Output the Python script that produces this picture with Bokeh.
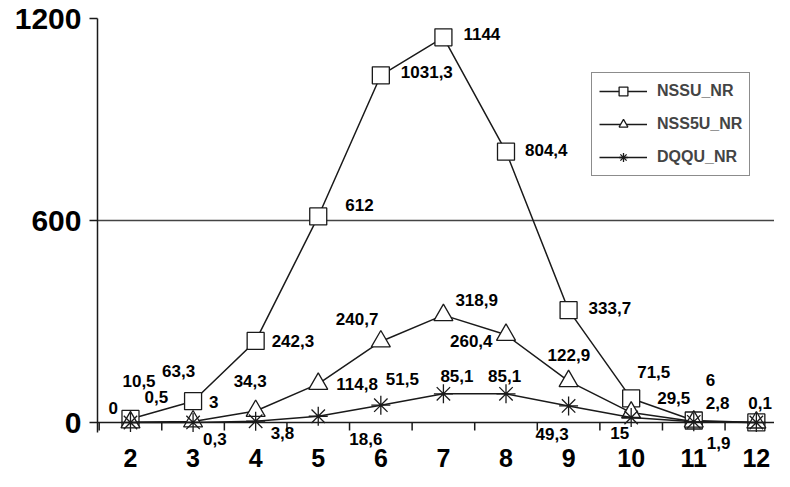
from bokeh.plotting import figure
from bokeh.models import Range1d, FixedTicker, Legend, LegendItem, ColumnDataSource, Span
from bokeh.embed import file_html
from bokeh.resources import INLINE
from bokeh.core.properties import value

# ---- data ----
categories = [2, 3, 4, 5, 6, 7, 8, 9, 10, 11, 12]
nssu_nr = [10.5, 63.3, 242.3, 612, 1031.3, 1144, 804.4, 333.7, 71.5, 6, 0.1]
nss5u_nr = [0.5, 3, 34.3, 114.8, 240.7, 318.9, 260.4, 122.9, 29.5, 2.8, 0]
dqqu_nr = [0, 0.3, 3.8, 18.6, 51.5, 85.1, 85.1, 49.3, 15, 1.9, 0]
y_ticks = [0, 600, 1200]
series_names = ["NSSU_NR", "NSS5U_NR", "DQQU_NR"]

# label placement (screen px: left edge, vertical middle; +dy = down), None = no label
nssu_off = [(-8, -38), (-31, -30), (16, 0), (27, -11), (20, -3), (20, -3), (19, -2), (20, -2), (6, -26), (12, -40), (-8, -19)]
nss5u_off = [(14, -25), (16, -19), (-22, -30), (18, 0), (-45, -22), (12, -15), (-56, 6), (-21, -26), (26, -15), (12, -19), None]
dqqu_off = [(-22, -15), (10, 17), (15, 12), (31, 23), (5, -26), (-3, -18), (-18, -18), (-33, 28), (-21, 16), (13, 21), None]

FONT = "Liberation Sans"
INK = "#1a1a1a"

H, TOP, ZERO_Y = 471, 18, 422          # figure height, frame top, pixel row of value 0
y_max = 1200
px_per_unit = (ZERO_Y - TOP) / y_max
y_min = -(H - ZERO_Y) / px_per_unit

p = figure(width=774, height=H, output_backend="svg", toolbar_location=None,
           x_range=Range1d(1.473, 12.29), y_range=Range1d(y_min, y_max),
           x_axis_location=None,
           min_border_left=97, min_border_right=0, min_border_top=TOP, min_border_bottom=0)
p.outline_line_color = None
p.background_fill_color = "white"

# y axis
ya = p.yaxis[0]
ya.ticker = FixedTicker(ticks=y_ticks)
ya.bounds = (-10 / px_per_unit, y_max)
ya.minor_tick_out = 0
ya.minor_tick_in = 0
ya.major_tick_out = 8
ya.major_tick_in = 0
ya.major_tick_line_color = INK
ya.major_tick_line_width = 1.5
ya.axis_line_color = INK
ya.axis_line_width = 1.5
ya.major_label_text_font = FONT
ya.major_label_text_font_style = "bold"
ya.major_label_text_font_size = "30px"
ya.major_label_text_color = "black"
ya.major_label_standoff = 8

p.xgrid.grid_line_color = None
p.ygrid.ticker = FixedTicker(ticks=[600, 1200])
p.ygrid.grid_line_color = "#444444"
p.ygrid.grid_line_width = 1.5

# x axis (drawn at value 0)
p.add_layout(Span(location=0, dimension="width", line_color=INK, line_width=1.5))
minor = [c - 0.5 for c in categories]
p.segment(x0=minor, y0=[0] * len(minor), x1=minor, y1=[-8 / px_per_unit] * len(minor),
          line_color=INK, line_width=1.5)
p.text(x=categories, y=[0] * len(categories), text=[str(c) for c in categories],
       y_offset=35, text_font=value(FONT), text_font_style="bold", text_font_size="25px",
       text_color="black", text_align="center", text_baseline="middle")

markers = ["square", "triangle", "asterisk"]
sizes = [17, 19, 19]
all_vals = [nssu_nr, nss5u_nr, dqqu_nr]
all_offs = [nssu_off, nss5u_off, dqqu_off]

items = []
for name, vals, mk, sz in zip(series_names, all_vals, markers, sizes):
    src = ColumnDataSource(dict(x=categories, y=vals))
    ln = p.line("x", "y", source=src, line_color=INK, line_width=1.5)
    sc = p.scatter("x", "y", source=src, marker=mk, size=sz, fill_color="white",
                   line_color=INK, line_width=1.3)
    items.append(LegendItem(label=name, renderers=[ln, sc]))

for vals, offs in zip(all_vals, all_offs):
    xs, ys, ts, dx, dy = [], [], [], [], []
    for c, v, o in zip(categories, vals, offs):
        if o is None:
            continue
        xs.append(c); ys.append(v)
        ts.append(f"{v:g}".replace(".", ","))
        dx.append(o[0]); dy.append(o[1])
    lsrc = ColumnDataSource(dict(x=xs, y=ys, t=ts, dx=dx, dy=dy))
    p.text("x", "y", text="t", x_offset="dx", y_offset="dy", source=lsrc,
           text_font=value(FONT), text_font_style="bold", text_font_size="17px",
           text_color="black", text_align="left", text_baseline="middle")

legend = Legend(items=items, location=(494, 246 + int(H - ZERO_Y)))
legend.border_line_color = INK
legend.border_line_width = 1.5
legend.background_fill_color = "white"
legend.background_fill_alpha = 1
legend.label_text_font = FONT
legend.label_text_font_style = "bold"
legend.label_text_font_size = "16px"
legend.glyph_width = 48
legend.glyph_height = 22
legend.label_height = 22
legend.label_standoff = 10
legend.spacing = 11
legend.padding = 7
legend.margin = 0
p.add_layout(legend)

open("out.html", "w").write(file_html(p, INLINE))
